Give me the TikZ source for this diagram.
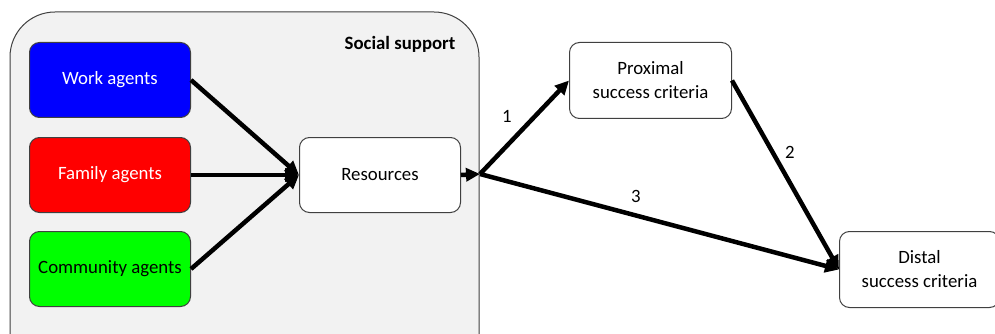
\documentclass[tikz,border=0pt]{standalone}
\usepackage{fontspec}
\setmainfont{Carlito}
\usetikzlibrary{arrows.meta}
\definecolor{pureblue}{RGB}{0,0,255}
\definecolor{purered}{RGB}{255,0,0}
\definecolor{puregreen}{RGB}{0,255,0}
\definecolor{panel}{RGB}{242,242,242}
\definecolor{edge}{RGB}{64,64,64}
\tikzset{
  box/.style={draw=edge, line width=1pt, rounded corners=10pt, minimum width=161pt, minimum height=75pt, inner sep=0pt, font=\fontsize{18.8}{24}\selectfont, align=center, anchor=north west},
  conn/.style={line width=4.5pt, -{Triangle[length=14pt,width=13pt]}},
  lbl/.style={font=\fontsize{18.8}{22}\selectfont, inner sep=0pt}
}
\begin{document}
\begin{tikzpicture}[x=1pt,y=-1pt]
\useasboundingbox (0,0) rectangle (995,334);
\clip (0,0) rectangle (995,334);
\fill[white] (0,0) rectangle (995,334);
\draw[draw=edge, line width=1pt, fill=panel, rounded corners=45pt] (10,12) rectangle (479,400);
\node[font=\bfseries\fontsize{18.8}{22}\selectfont] (title) at (400,44) {Social support};
\node[box, fill=pureblue, text=white] (work) at (29,42) {Work agents};
\node[box, fill=purered, text=white] (family) at (29,137) {Family agents};
\node[box, fill=puregreen] (community) at (29,231) {Community agents};
\node[box, fill=white] (res) at (299,137) {Resources};
\node[box, fill=white, minimum width=162pt, minimum height=76pt] (prox) at (569,42) {Proximal\\success criteria};
\node[box, fill=white, minimum width=160pt, minimum height=76pt] (dist) at (839,231) {Distal\\success criteria};
\coordinate (j) at (480,174);
\draw[conn] (work.east) -- (res.west);
\draw[conn] (family.east) -- (res.west);
\draw[conn] (community.east) -- (res.west);
\draw[conn] (res.east) -- (j);
\draw[conn] (j) -- (prox.west);
\draw[conn] (j) -- (dist.west);
\draw[conn] (prox.east) -- (dist.west);
\node[lbl] (l1) at (507,116) {1};
\node[lbl] (l2) at (790,152) {2};
\node[lbl] (l3) at (636,196) {3};
\end{tikzpicture}
\end{document}
